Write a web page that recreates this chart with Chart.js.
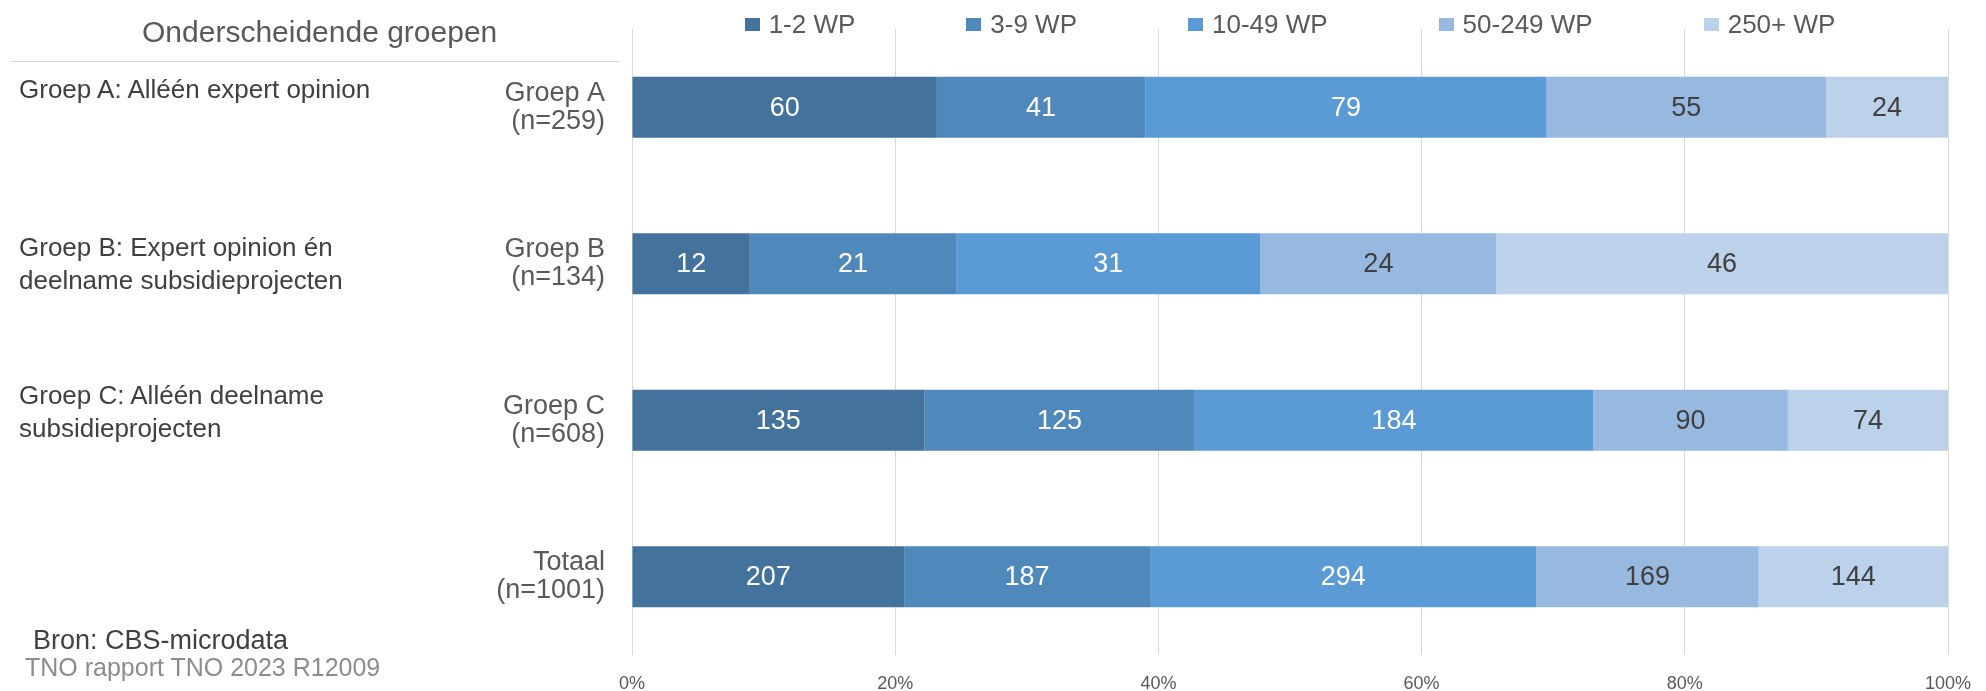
<!DOCTYPE html>
<html lang="nl">
<head>
<meta charset="utf-8">
<title>Onderscheidende groepen</title>
<script src="https://cdn.jsdelivr.net/npm/chart.js@4.4.1/dist/chart.umd.min.js"></script>
<style>
  html, body { margin: 0; padding: 0; background: #fff; }
  body { width: 1986px; height: 691px; position: relative; overflow: hidden;
         font-family: "Liberation Sans", Arial, sans-serif; color: #404040; }
  #wrap { position: absolute; left: 0; top: 0; width: 1986px; height: 691px; }
  .side { position: absolute; font-size: 26px; line-height: 33px; white-space: nowrap; }
  #title { left: 142px; top: 15px; font-size: 30px; color: #595959; }
  #rule { position: absolute; left: 10px; top: 61px; width: 610px; height: 1px; background: #d9d9d9; }
  #legend { position: absolute; left: 632px; width: 1316px; top: 9px; display: flex;
            justify-content: center; gap: 111px; font-size: 26px; color: #595959; }
  #legend span.item { display: flex; align-items: center; }
  #legend i { display: inline-block; width: 15px; height: 13px; margin-right: 9px; }
  #src1 { left: 33px; top: 624px; font-size: 27px; color: #404040; }
  #src2 { left: 25px; top: 651px; font-size: 25px; color: #8c8c8c; }
</style>
</head>
<body>
<div id="wrap"><canvas id="groepenChart"></canvas></div>
<div id="legend"></div>

<div id="title" class="side">Onderscheidende groepen</div>
<div id="rule"></div>
<div class="side" style="left:19px; top:73px;">Groep A: Alléén expert opinion</div>
<div class="side" style="left:19px; top:231px;">Groep B: Expert opinion én<br>deelname subsidieprojecten</div>
<div class="side" style="left:19px; top:379px;">Groep C: Alléén deelname<br>subsidieprojecten</div>
<div id="src1" class="side">Bron: CBS-microdata</div>
<div id="src2" class="side">TNO rapport TNO 2023 R12009</div>

<script>
const groups     = [["Groep A", "(n=259)"], ["Groep B", "(n=134)"], ["Groep C", "(n=608)"], ["Totaal", "(n=1001)"]];
const groupN     = [259, 134, 608, 1001];
const sizeLabels = ["1-2 WP", "3-9 WP", "10-49 WP", "50-249 WP", "250+ WP"];

// aantallen per grootteklasse, per groep
const wp1_2    = [60, 12, 135, 207];
const wp3_9    = [41, 21, 125, 187];
const wp10_49  = [79, 31, 184, 294];
const wp50_249 = [55, 24, 90, 169];
const wp250    = [24, 46, 74, 144];

const xTicks = [0, 20, 40, 60, 80, 100];

const colors      = ["#43729d", "#4f88bb", "#5b9bd5", "#97b8df", "#bcd1ea"];
const labelColors = ["#ffffff", "#ffffff", "#ffffff", "#404040", "#404040"];

const FONT = "'Liberation Sans', Arial, sans-serif";
Chart.defaults.font.family = FONT;
Chart.defaults.color = "#595959";

const counts = [wp1_2, wp3_9, wp10_49, wp50_249, wp250];

const datasets = counts.map((arr, i) => ({
  label: sizeLabels[i],
  counts: arr,
  data: arr.map((v, j) => v / groupN[j] * 100),
  backgroundColor: colors[i],
  borderWidth: 0,
  categoryPercentage: 1,
  barPercentage: 0.39
}));

// aantallen midden in de segmenten
const countLabels = {
  id: "countLabels",
  afterDatasetsDraw(chart) {
    const ctx = chart.ctx;
    ctx.save();
    ctx.font = "27px " + FONT;
    ctx.textAlign = "center";
    ctx.textBaseline = "middle";
    chart.data.datasets.forEach((ds, i) => {
      const meta = chart.getDatasetMeta(i);
      ctx.fillStyle = labelColors[i];
      meta.data.forEach((bar, j) => {
        ctx.fillText(ds.counts[j], (bar.x + bar.base) / 2, bar.y + 1);
      });
    });
    ctx.restore();
  }
};

// legenda als html boven het plotvlak
const htmlLegend = {
  id: "htmlLegend",
  afterUpdate(chart) {
    const box = document.getElementById("legend");
    box.innerHTML = "";
    const items = chart.options.plugins.legend.labels.generateLabels(chart);
    items.forEach(item => {
      const el = document.createElement("span");
      el.className = "item";
      el.innerHTML = `<i style="background:${item.fillStyle}"></i>${item.text}`;
      box.appendChild(el);
    });
  }
};

new Chart(document.getElementById("groepenChart"), {
  type: "bar",
  data: { labels: groups, datasets },
  plugins: [countLabels, htmlLegend],
  options: {
    indexAxis: "y",
    responsive: true,
    maintainAspectRatio: false,
    animation: false,
    layout: { padding: { top: 29, right: 38, bottom: 0, left: 0 } },
    plugins: {
      legend: { display: false },
      tooltip: { enabled: false }
    },
    scales: {
      x: {
        stacked: true, min: 0, max: 100,
        afterBuildTicks: s => { s.ticks = xTicks.map(v => ({ value: v })); },
        afterFit: s => { s.height = 36; s.paddingLeft = 0; s.paddingRight = 0; },
        ticks: { callback: v => v + "%", font: { size: 18 }, color: "#595959", padding: 18 },
        grid: { color: "#d9d9d9", lineWidth: 1, drawTicks: false },
        border: { display: false }
      },
      y: {
        stacked: true,
        afterFit: s => { s.width = 632; s.paddingTop = 0; s.paddingBottom = 0; },
        ticks: { font: { size: 27, lineHeight: 1.05 }, color: "#595959", padding: 27 },
        grid: { display: false, drawTicks: false },
        border: { display: false }
      }
    }
  }
});
</script>
</body>
</html>
